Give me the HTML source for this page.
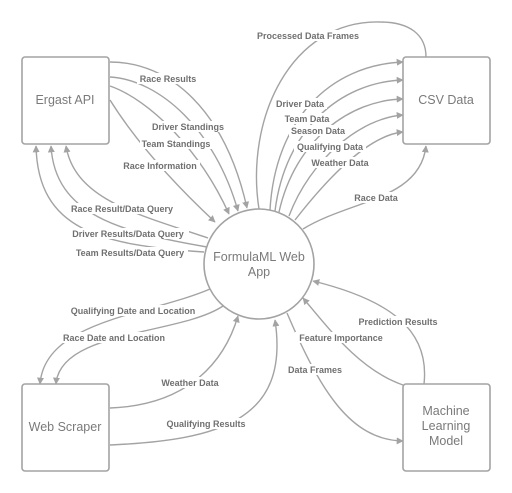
<!DOCTYPE html>
<html><head><meta charset="utf-8"><style>
html,body{margin:0;padding:0;background:#fff;}
svg{display:block;}
.l{fill:none;stroke:#a3a3a3;stroke-width:1.4;}
.t{font-family:"Liberation Sans",sans-serif;font-size:9px;font-weight:bold;fill:#707070;text-anchor:middle;}
.n{font-family:"Liberation Sans",sans-serif;font-size:12.5px;fill:#7a7a7a;text-anchor:middle;}
.bg{fill:#fff;}
</style></head><body>
<svg width="512" height="493" viewBox="0 0 512 493">
<defs><marker id="a" viewBox="0 0 10 10" refX="9" refY="5" markerWidth="7" markerHeight="7" orient="auto-start-reverse" markerUnits="userSpaceOnUse"><path d="M0,0 L10,5 L0,10 z" fill="#a3a3a3"/></marker></defs>

<!-- Ergast outputs -->
<path class="l" marker-end="url(#a)" d="M110,62 C170,62 225,110 247,208"/>
<path class="l" marker-end="url(#a)" d="M110,77 C160,80 215,130 238,211"/>
<path class="l" marker-end="url(#a)" d="M110,86 C150,100 200,150 229,214"/>
<path class="l" marker-end="url(#a)" d="M110,100 C135,140 170,180 215,222"/>
<!-- queries -->
<path class="l" marker-end="url(#a)" d="M208,238 C140,215 75,200 66,146"/>
<path class="l" marker-end="url(#a)" d="M207,247 C120,232 55,215 51,146"/>
<path class="l" marker-end="url(#a)" d="M204,252 C100,245 38,230 36,146"/>
<!-- processed -->
<path class="l" d="M259,209 C245,120 290,20 380,22 C410,22 426,35 426,57"/>
<!-- CSV inputs -->
<path class="l" marker-end="url(#a)" d="M270,210 C275,120 330,65 403,62"/>
<path class="l" marker-end="url(#a)" d="M275,211 C285,130 340,82 403,80"/>
<path class="l" marker-end="url(#a)" d="M279,212 C295,140 350,100 403,99"/>
<path class="l" marker-end="url(#a)" d="M289,216 C310,160 360,118 403,115"/>
<path class="l" marker-end="url(#a)" d="M295,220 C330,175 370,135 403,132"/>
<path class="l" marker-end="url(#a)" d="M303,229 C350,200 420,200 426,146"/>
<!-- scraper -->
<path class="l" marker-end="url(#a)" d="M210,289 C150,315 45,320 40,384"/>
<path class="l" marker-end="url(#a)" d="M223,306 C180,335 60,330 56,384"/>
<path class="l" marker-end="url(#a)" d="M110,408 C190,405 225,360 238,316"/>
<path class="l" marker-end="url(#a)" d="M110,445 C220,440 290,420 275,320"/>
<!-- ML -->
<path class="l" marker-end="url(#a)" d="M287,313 C320,390 350,440 403,441"/>
<path class="l" marker-end="url(#a)" d="M403,385 C360,370 330,330 303,298"/>
<path class="l" marker-end="url(#a)" d="M424,384 C430,330 390,300 313,281"/>

<!-- nodes -->
<rect x="22" y="57" width="87" height="87" rx="3" fill="#fff" stroke="#a3a3a3" stroke-width="1.6"/>
<rect x="403" y="57" width="87" height="87" rx="3" fill="#fff" stroke="#a3a3a3" stroke-width="1.6"/>
<rect x="22" y="384" width="87" height="87" rx="3" fill="#fff" stroke="#a3a3a3" stroke-width="1.6"/>
<rect x="403" y="384" width="87" height="87" rx="3" fill="#fff" stroke="#a3a3a3" stroke-width="1.6"/>
<circle cx="259" cy="264" r="55" fill="#fff" stroke="#a3a3a3" stroke-width="1.6"/>
<text class="n" x="65" y="104">Ergast API</text>
<text class="n" x="446" y="104">CSV Data</text>
<text class="n" x="65" y="431">Web Scraper</text>
<text class="n" x="446" y="415">Machine</text>
<text class="n" x="446" y="430">Learning</text>
<text class="n" x="446" y="445">Model</text>
<text class="n" x="259" y="261">FormulaML Web</text>
<text class="n" x="259" y="276">App</text>

<!-- labels -->
<g>
<rect class="bg" x="137" y="73" width="63" height="11"/><text class="t" x="168" y="82">Race Results</text>
<rect class="bg" x="148" y="121" width="80" height="11"/><text class="t" x="188" y="130">Driver Standings</text>
<rect class="bg" x="140" y="138" width="73" height="11"/><text class="t" x="176" y="147">Team Standings</text>
<rect class="bg" x="120" y="160" width="80" height="11"/><text class="t" x="160" y="169">Race Information</text>
<rect class="bg" x="66" y="203" width="112" height="11"/><text class="t" x="122" y="212">Race Result/Data Query</text>
<rect class="bg" x="67" y="228" width="122" height="11"/><text class="t" x="128" y="237">Driver Results/Data Query</text>
<rect class="bg" x="72" y="247" width="116" height="11"/><text class="t" x="130" y="256">Team Results/Data Query</text>
<rect class="bg" x="252" y="30" width="112" height="11"/><text class="t" x="308" y="39">Processed Data Frames</text>
<rect class="bg" x="273" y="98" width="54" height="11"/><text class="t" x="300" y="107">Driver Data</text>
<rect class="bg" x="290" y="113" width="35" height="11"/><text class="t" x="307" y="122">Team Data</text>
<rect class="bg" x="289" y="125" width="59" height="11"/><text class="t" x="318" y="134">Season Data</text>
<rect class="bg" x="294" y="141" width="72" height="11"/><text class="t" x="330" y="150">Qualifying Data</text>
<rect class="bg" x="309" y="157" width="62" height="11"/><text class="t" x="340" y="166">Weather Data</text>
<rect class="bg" x="352" y="192" width="48" height="11"/><text class="t" x="376" y="201">Race Data</text>
<rect class="bg" x="66" y="305" width="134" height="11"/><text class="t" x="133" y="314">Qualifying Date and Location</text>
<rect class="bg" x="59" y="332" width="110" height="11"/><text class="t" x="114" y="341">Race Date and Location</text>
<rect class="bg" x="158" y="377" width="63" height="11"/><text class="t" x="190" y="386">Weather Data</text>
<rect class="bg" x="163" y="418" width="85" height="11"/><text class="t" x="206" y="427">Qualifying Results</text>
<rect class="bg" x="286" y="364" width="58" height="11"/><text class="t" x="315" y="373">Data Frames</text>
<rect class="bg" x="295" y="332" width="92" height="11"/><text class="t" x="341" y="341">Feature Importance</text>
<rect class="bg" x="356" y="316" width="84" height="11"/><text class="t" x="398" y="325">Prediction Results</text>
</g>
</svg>
</body></html>
